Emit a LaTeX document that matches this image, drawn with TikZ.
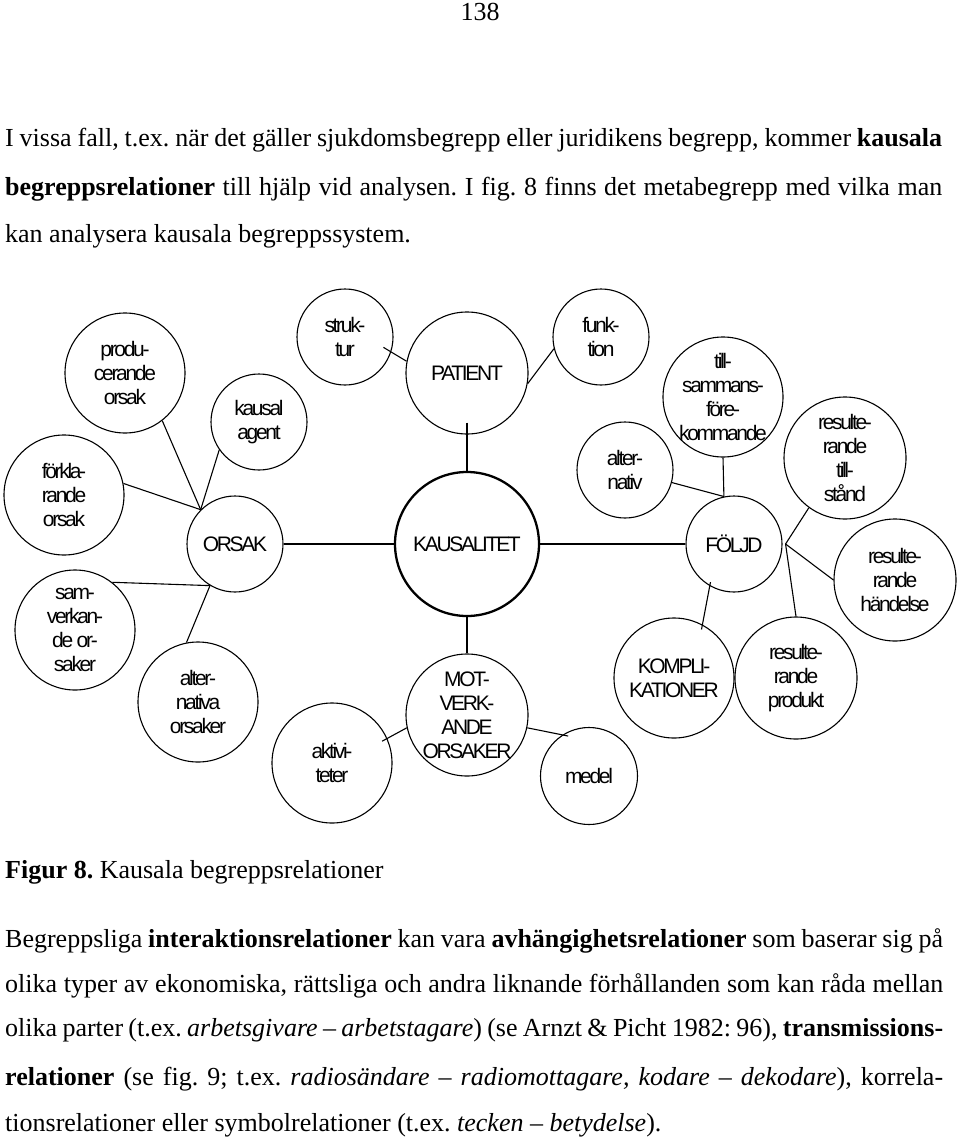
\documentclass[tikz,border=0pt]{standalone}
\usepackage{fontspec}
\setmainfont{Liberation Serif}
\newfontfamily\diagfont[LetterSpace=-11]{Liberation Sans}
\usetikzlibrary{calc}
\frenchspacing

\begin{document}
\begin{tikzpicture}[x=1pt, y=-1pt,
  bubble/.style={draw, circle, line width=1.1pt, inner sep=-20pt, align=center,
    font=\diagfont\fontsize{21}{24}\selectfont},
  bigbubble/.style={bubble, line width=2.3pt},
  link/.style={line width=1.1pt},
  txtline/.style={anchor=base west, inner sep=0pt, font=\fontsize{26}{30}\selectfont}]
\useasboundingbox (0,0) rectangle (960,1142);

% --- text above the figure ---
\node[txtline, anchor=base] (pagenum) at (480,21) {138};
\node[txtline] (top1) at (5,147) {\makebox[937pt][s]{I vissa fall, t.ex. när det gäller sjukdomsbegrepp eller juridikens begrepp, kommer \textbf{kausala}}};
\node[txtline] (top2) at (5,195) {\makebox[937pt][s]{\textbf{begreppsrelationer} till hjälp vid analysen. I fig. 8 finns det metabegrepp med vilka man}};
\node[txtline] (top3) at (5,242) {kan analysera kausala begreppssystem.};

% --- ORSAK side ---
\node[bubble, minimum size=120pt] (produ) at (125,373) {produ-\\cerande\\orsak};
\node[bubble, minimum size=96pt] (kausal) at (259,422) {kausal\\agent};
\node[bubble, minimum size=120pt] (forkl) at (64,495) {förkla-\\rande\\orsak};
\node[bubble, minimum size=96pt] (orsak) at (235,544) {ORSAK};
\node[bubble, minimum size=120pt] (samverk) at (75,630) {sam-\\verkan-\\de or-\\saker};
\node[bubble, minimum size=120pt] (altorsak) at (198,702) {alter-\\nativa\\orsaker};

% --- middle column ---
\node[bubble, minimum size=96pt] (struktur) at (345,337) {struk-\\tur};
\node[bubble, minimum size=122pt] (patient) at (467,373) {PATIENT};
\node[bubble, minimum size=96pt] (funktion) at (601,337) {funk-\\tion};
\node[bigbubble, minimum size=144pt] (kausalitet) at (467,544) {KAUSALITET};
\node[bubble, minimum size=122pt] (motverk) at (467,715) {MOT-\\VERK-\\ANDE\\ORSAKER};
\node[bubble, minimum size=120pt] (aktiv) at (332,763) {aktivi-\\teter};
\node[bubble, minimum size=97pt] (medel) at (589,776) {medel};

% --- FÖLJD side ---
\node[bubble, minimum size=96pt] (altern) at (625,470) {alter-\\nativ};
\node[bubble, minimum size=120pt] (tillsam) at (723,397) {till-\\sammans-\\före-\\kommande};
\node[bubble, minimum size=96pt] (foljd) at (734,544) {FÖLJD};
\node[bubble, minimum size=122pt] (tillstand) at (845,458) {resulte-\\rande\\till-\\stånd};
\node[bubble, minimum size=122pt] (handelse) at (895,580) {resulte-\\rande\\händelse};
\node[bubble, minimum size=120pt] (kompl) at (674,678) {KOMPLI-\\KATIONER};
\node[bubble, minimum size=122pt] (produkt) at (796,678) {resulte-\\rande\\produkt};

% --- connectors ---
\coordinate (orsakin) at (orsak.135);
\coordinate (orsakut) at (orsak.-121);
\coordinate (foljdin) at (foljd.102);
\coordinate (foljdut) at ([xshift=3pt]foljd.east);
\draw[link] (produ.-52) -- (orsakin);
\draw[link] (kausal.-145) -- (orsakin);
\draw[link] (forkl.11) -- (orsakin);
\draw[link] (samverk.52) -- (orsakut);
\draw[link] (altorsak.101) -- (orsakut);
\draw[link] (orsak.east) -- (kausalitet.west);
\draw[link, shorten <=-9pt] (struktur.-18) -- (patient.169);
\draw[link] (patient.-10) -- (funktion.-166);
\draw[link, shorten <=-12pt] (patient.south) -- (kausalitet.north);
\draw[link] (kausalitet.east) -- (foljd.west);
\draw[link] (kausalitet.south) -- (motverk.north);
\draw[link, shorten <=-6pt] (aktiv.24) -- (motverk.192);
\draw[link, shorten >=-6pt] (motverk.-12) -- (medel.123);
\draw[link] (tillsam.south) -- (foljdin);
\draw[link] (altern.-15) -- (foljdin);
\draw[link] (foljdut) -- (tillstand.-126);
\draw[link] (foljdut) -- (handelse.180);
\draw[link] (foljdut) -- (produkt.north);
\draw[link, shorten <=-4pt, shorten >=-5pt] (foljd.-120) -- (kompl.62);

% --- caption and text below ---
\node[txtline] (caption) at (5,878) {\textbf{Figur 8.} Kausala begreppsrelationer};
\node[txtline] (para1) at (5,947) {\makebox[938pt][s]{Begreppsliga \textbf{interaktionsrelationer} kan vara \textbf{avhängighetsrelationer} som baserar sig på}};
\node[txtline] (para2) at (5,992) {\makebox[938pt][s]{olika typer av ekonomiska, rättsliga och andra liknande förhållanden som kan råda mellan}};
\node[txtline] (para3) at (5,1036) {\makebox[938pt][s]{olika parter (t.ex. \textit{arbetsgivare – arbetstagare}) (se Arnzt \& Picht 1982: 96), \textbf{transmissions-}}};
\node[txtline] (para4) at (5,1085) {\makebox[938pt][s]{\textbf{relationer} (se fig. 9; t.ex. \textit{radiosändare – radiomottagare, kodare – dekodare}), korrela-}};
\node[txtline] (para5) at (5,1131) {tionsrelationer eller symbolrelationer (t.ex. \textit{tecken – betydelse}).};
\end{tikzpicture}
\end{document}
